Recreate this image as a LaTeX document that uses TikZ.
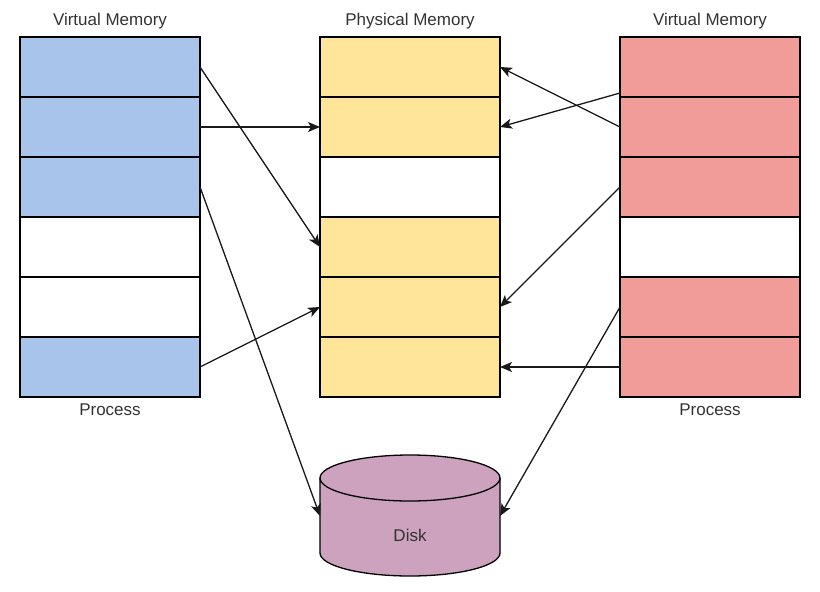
\documentclass[tikz,border=0pt]{standalone}
\usepackage{fontspec}
\setmainfont{Liberation Sans}
\usetikzlibrary{arrows.meta}
\definecolor{vblue}{HTML}{A9C4EB}
\definecolor{pyellow}{HTML}{FFE599}
\definecolor{vred}{HTML}{F19C99}
\definecolor{dpurple}{HTML}{CDA2BE}
\definecolor{txt}{HTML}{333333}
\begin{document}
\begin{tikzpicture}[x=1pt,y=-1pt,
  cell/.style={draw=black,line width=1.3pt,minimum width=180pt,minimum height=60pt,inner sep=0pt,outer sep=0pt},
  lbl/.style={text=txt,font=\fontsize{17}{19}\selectfont,inner sep=0pt},
  conn/.style={draw=black!90,line width=1.3pt,-{Stealth[length=12pt,width=10pt,inset=3pt]}}]
\useasboundingbox (0,0) rectangle (820,592);
% left column
\node[cell,fill=vblue] (L1) at (110,67) {};
\node[cell,fill=vblue] (L2) at (110,127) {};
\node[cell,fill=vblue] (L3) at (110,187) {};
\node[cell,fill=white] (L4) at (110,247) {};
\node[cell,fill=white] (L5) at (110,307) {};
\node[cell,fill=vblue] (L6) at (110,367) {};
% middle column
\node[cell,fill=pyellow] (M1) at (410,67) {};
\node[cell,fill=pyellow] (M2) at (410,127) {};
\node[cell,fill=white] (M3) at (410,187) {};
\node[cell,fill=pyellow] (M4) at (410,247) {};
\node[cell,fill=pyellow] (M5) at (410,307) {};
\node[cell,fill=pyellow] (M6) at (410,367) {};
% right column
\node[cell,fill=vred] (R1) at (710,67) {};
\node[cell,fill=vred] (R2) at (710,127) {};
\node[cell,fill=vred] (R3) at (710,187) {};
\node[cell,fill=white] (R4) at (710,247) {};
\node[cell,fill=vred] (R5) at (710,307) {};
\node[cell,fill=vred] (R6) at (710,367) {};
% labels
\node[lbl] (t1) at (110,21) {Virtual Memory};
\node[lbl] (t2) at (410,21) {Physical Memory};
\node[lbl] (t3) at (710,21) {Virtual Memory};
\node[lbl] (p1) at (110,410) {Process};
\node[lbl] (p2) at (710,410) {Process};
% disk
\fill[dpurple] (320,478) -- (320,553) arc[start angle=180,end angle=0,x radius=90,y radius=23] -- (500,478) arc[start angle=0,end angle=-180,x radius=90,y radius=23] -- cycle;
\draw[line width=1.3pt] (320,478) -- (320,553) arc[start angle=180,end angle=0,x radius=90,y radius=23] -- (500,478);
\draw[line width=1.3pt] (410,478) ellipse[x radius=90,y radius=23];
\node[minimum width=180pt,minimum height=122pt,inner sep=0pt,outer sep=0pt] (disk) at (410,516) {};
\node[lbl] (dl) at (410,535) {Disk};
% connectors
\draw[conn] (L1.east) -- (M4.west);
\draw[conn] (L2.east) -- (M2.west);
\draw[conn] (L3.east) -- (disk.west);
\draw[conn] (L6.east) -- (M5.west);
\draw[conn] (R2.west) -- (M1.east);
\draw[conn] ([yshift=4pt]R1.south west) -- (M2.east);
\draw[conn] (R3.west) -- (M5.east);
\draw[conn] (R5.west) -- (disk.east);
\draw[conn] (R6.west) -- (M6.east);
\end{tikzpicture}
\end{document}
